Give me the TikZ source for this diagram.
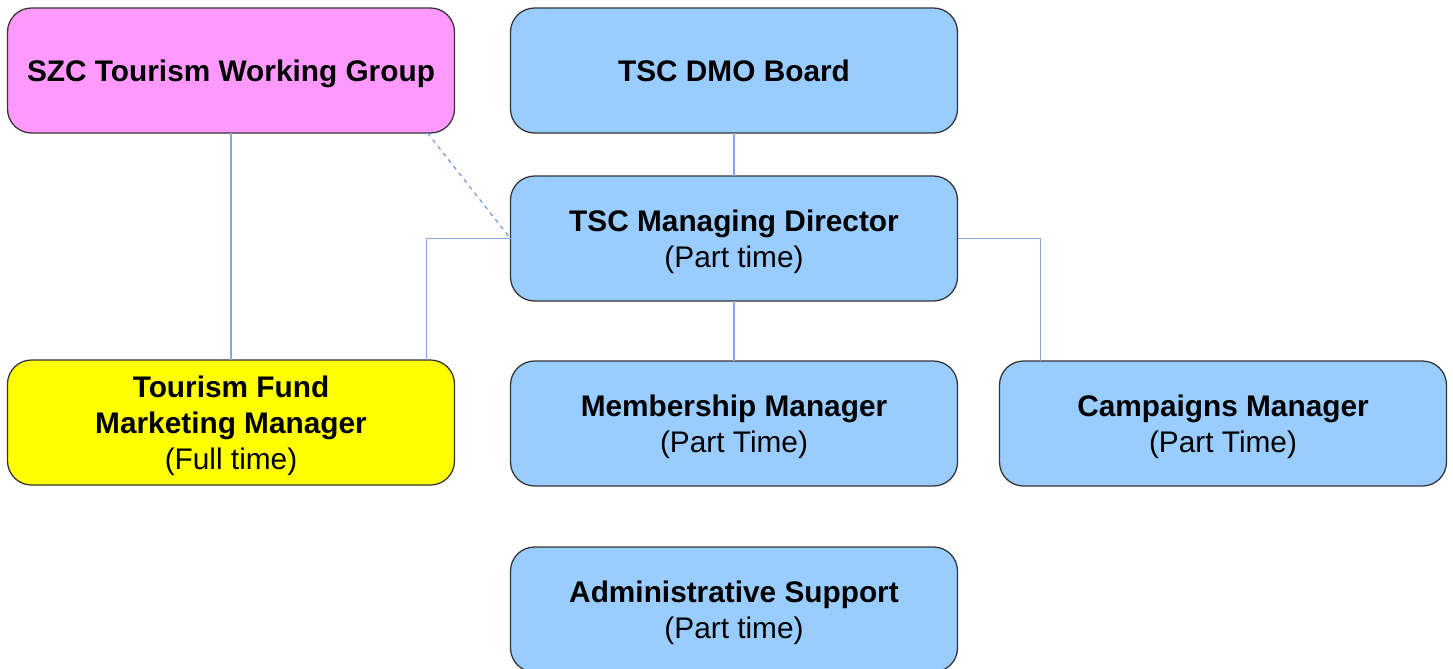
\documentclass[tikz,border=0pt]{standalone}
\usepackage{fontspec}
\setmainfont{Liberation Sans}
\usepackage{xcolor}
\usepackage{tikz}
\usetikzlibrary{positioning}

\definecolor{roleblue}{HTML}{99CCFF}
\definecolor{rolepink}{HTML}{FF99FF}
\definecolor{roleyellow}{HTML}{FFFF00}
\definecolor{linkblue}{HTML}{88A6E0}
\definecolor{dashblue}{HTML}{6F93D8}

\begin{document}
\begin{tikzpicture}[font=\fontsize{21.2}{25.6}\selectfont]
\tikzstyle{role}=[rectangle,rounded corners=0.6cm,draw=black!80,line width=0.9pt,outer sep=0pt,
  minimum width=11.175cm,minimum height=3.125cm,align=center,inner sep=0pt,text depth=0pt]
\tikzstyle{link}=[draw=linkblue,line width=0.8pt]
\useasboundingbox (0,0) rectangle (36.325,-16.7);
% top row
\node[role,fill=roleblue] (board) at (18.35,-1.7625) {\textbf{TSC DMO Board}};
\node[role,fill=rolepink,left=1.4cm of board] (szc) {\textbf{SZC Tourism Working Group}};
% managing director and staff
\node[role,fill=roleblue,below=1.075cm of board] (md) {\textbf{TSC Managing Director}\\(Part time)};
\node[role,fill=roleblue,below=1.5cm of md] (member) {\textbf{Membership Manager}\\(Part Time)};
\node[role,fill=roleblue,right=1.05cm of member] (camp) {\textbf{Campaigns Manager}\\(Part Time)};
\node[role,fill=roleyellow,below=5.675cm of szc] (fund) {\textbf{Tourism Fund}\\\textbf{Marketing Manager}\\(Full time)};
\node[role,fill=roleblue,below=1.525cm of member] (admin) {\textbf{Administrative Support}\\(Part time)};
% reporting lines
\draw[link] (board) -- (md);
\draw[link] (md) -- (member);
\draw[link] (szc) -- (fund);
\draw[link] (md.east) -| ([xshift=1.025cm]camp.north west);
\draw[link] (md.west) -| ([xshift=-0.7cm]fund.north east);
\draw[draw=dashblue,line width=0.8pt,dashed] ([xshift=-0.675cm]szc.south east) -- (md.west);
\end{tikzpicture}
\end{document}
